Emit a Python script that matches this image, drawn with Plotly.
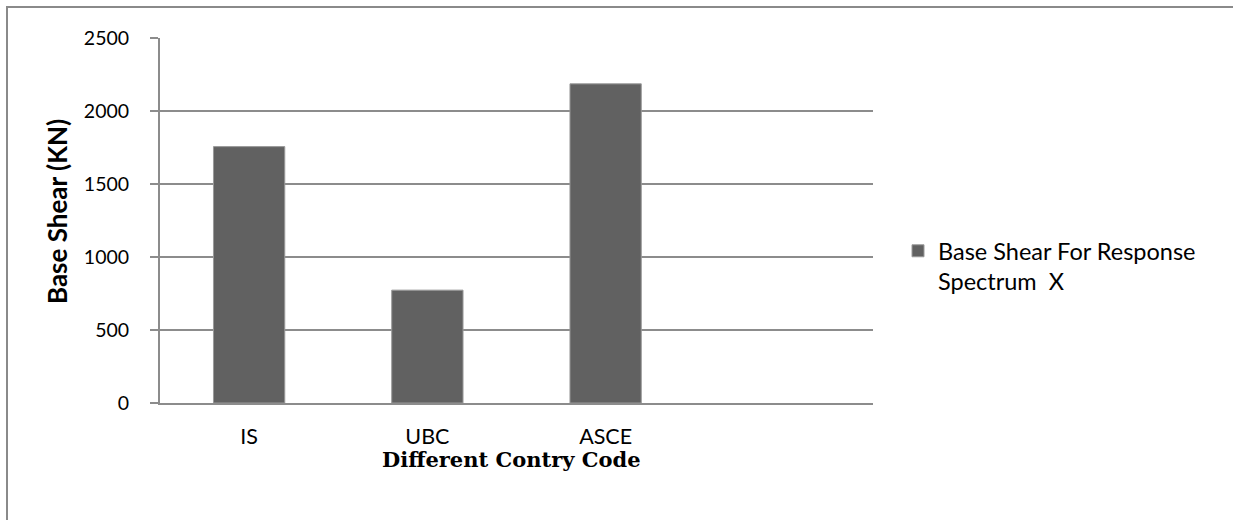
import plotly.graph_objects as go

categories = ["IS", "UBC", "ASCE"]
base_shear = [1756, 773, 2186]
series_name = "Base Shear For Response<br>Spectrum  X"
y_ticks = [0, 500, 1000, 1500, 2000, 2500]

W, H = 1233, 520
L, R, T, B = 160, 360, 38, 117
pw, ph = W - L - R, H - T - B

def px_x(p):
    return (p - L) / pw

def px_y(p):
    return (H - B - p) / ph

grid = "#8c8c8c"
sans = "Lato, Carlito, Calibri, sans-serif"

fig = go.Figure()
fig.add_trace(go.Bar(
    x=categories, y=base_shear, name=series_name,
    marker=dict(color="#616161", line=dict(color="#9a9a9a", width=1)),
    showlegend=True,
))

fig.update_layout(
    width=W, height=H,
    margin=dict(l=L, r=R, t=T, b=B),
    paper_bgcolor="white", plot_bgcolor="white",
    bargap=0.6,
    font=dict(family=sans, size=19, color="black"),
    showlegend=True,
    legend=dict(x=px_x(898), y=px_y(229), xanchor="left", yanchor="top",
                valign="top", font=dict(family=sans, size=23.5, color="black"),
                bgcolor="rgba(0,0,0,0)"),
    xaxis=dict(type="category", range=[-0.5, 3.5], showgrid=False,
               showline=True, linecolor=grid, linewidth=2, ticks="",
               tickfont=dict(family=sans, size=21.5, color="black"),
               ticklabelstandoff=13),
    yaxis=dict(range=[0, 2500], tickvals=y_ticks, showgrid=True,
               gridcolor=grid, gridwidth=2, showline=True, linecolor=grid,
               linewidth=2, ticks="outside", ticklen=8, tickcolor=grid,
               tickwidth=2, zeroline=False,
               tickfont=dict(family=sans, size=19.5, color="black"),
               ticklabelstandoff=17),
    shapes=[dict(type="rect", xref="paper", yref="paper",
                 x0=px_x(7), x1=px_x(1245), y0=px_y(530), y1=px_y(7),
                 line=dict(color="#8a8a8a", width=2), layer="below")],
    annotations=[
        dict(text="<b>Base Shear (KN)</b>", textangle=-90, xref="paper", yref="paper",
             x=px_x(57), y=px_y(212), xanchor="center", yanchor="middle",
             showarrow=False, font=dict(family=sans, size=26, color="black")),
        dict(text="<b>Different Contry Code</b>", xref="paper", yref="paper",
             x=px_x(511), y=px_y(460), xanchor="center", yanchor="middle",
             showarrow=False,
             font=dict(family="DejaVu Serif, Cambria, serif", size=21, color="black")),
    ],
)

fig.write_html("out.html", config={"displayModeBar": False},
               post_script="document.body.style.margin='0px';")
